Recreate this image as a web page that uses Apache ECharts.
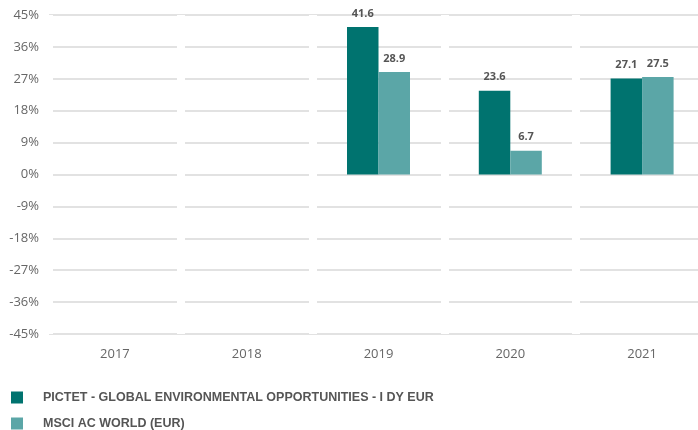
<!DOCTYPE html>
<html>
<head>
<meta charset="utf-8">
<script src="https://cdn.jsdelivr.net/npm/echarts@6/dist/echarts.min.js"></script>
<style>
  html, body { margin: 0; padding: 0; background: #fff; overflow: hidden; }
  /* the plot runs a little past the right edge, as in the source */
  #chart { width: 712px; height: 430px; }
</style>
</head>
<body>
<div id="chart"></div>
<script>
  const years = ['2017', '2018', '2019', '2020', '2021']
  const fundValues = [null, null, 41.6, 23.6, 27.1]
  const indexValues = [null, null, 28.9, 6.7, 27.5]
  const fundName = 'PICTET - GLOBAL ENVIRONMENTAL OPPORTUNITIES - I DY EUR'
  const indexName = 'MSCI AC WORLD (EUR)'

  const chart = echarts.init(document.getElementById('chart'))

  const labelStyle = {
    show: true,
    position: 'top',
    distance: 8,
    color: '#555',
    fontWeight: 'bold',
    fontSize: 11,
    fontFamily: 'Open Sans, sans-serif',
    formatter: p => p.value == null ? '' : p.value.toFixed(1)
  }

  const legendText = {
    color: '#555',
    fontWeight: 'bold',
    fontSize: 12.5,
    fontFamily: 'Liberation Sans Narrow, Arial Narrow, sans-serif',
    padding: [0, 0, 0, 15]
  }

  chart.setOption({
    animation: false,
    grid: { left: 49, top: 15, right: 4, height: 319 },
    legend: [
      {
        left: 6, top: 386, itemWidth: 12, itemHeight: 12, icon: 'rect',
        textStyle: legendText, data: [fundName]
      },
      {
        left: 6, top: 412, itemWidth: 12, itemHeight: 12, icon: 'rect',
        textStyle: legendText, data: [indexName]
      }
    ],
    xAxis: {
      type: 'category',
      data: years,
      axisLine: { show: false },
      axisTick: { show: false },
      axisLabel: { color: '#666', fontSize: 13, margin: 14, fontFamily: 'Open Sans, sans-serif' },
      splitLine: { show: true, lineStyle: { color: '#fff', width: 8 } },
      z: 3
    },
    yAxis: {
      type: 'value',
      min: -45,
      max: 45,
      interval: 9,
      axisLine: { show: false },
      axisTick: { show: false },
      axisLabel: {
        color: '#666',
        fontSize: 13,
        margin: 10,
        fontFamily: 'Open Sans, sans-serif',
        formatter: v => v + '%'
      },
      splitLine: { lineStyle: { color: '#d9d9d9', width: 1.5 } }
    },
    series: [
      {
        name: fundName,
        type: 'bar',
        data: fundValues,
        barWidth: 31.5,
        barGap: 0,
        itemStyle: { color: '#00736f' },
        label: labelStyle,
        z: 5
      },
      {
        name: indexName,
        type: 'bar',
        data: indexValues,
        barWidth: 31.5,
        barGap: 0,
        itemStyle: { color: '#5ba6a7' },
        label: labelStyle,
        z: 5
      }
    ]
  })
</script>
</body>
</html>
